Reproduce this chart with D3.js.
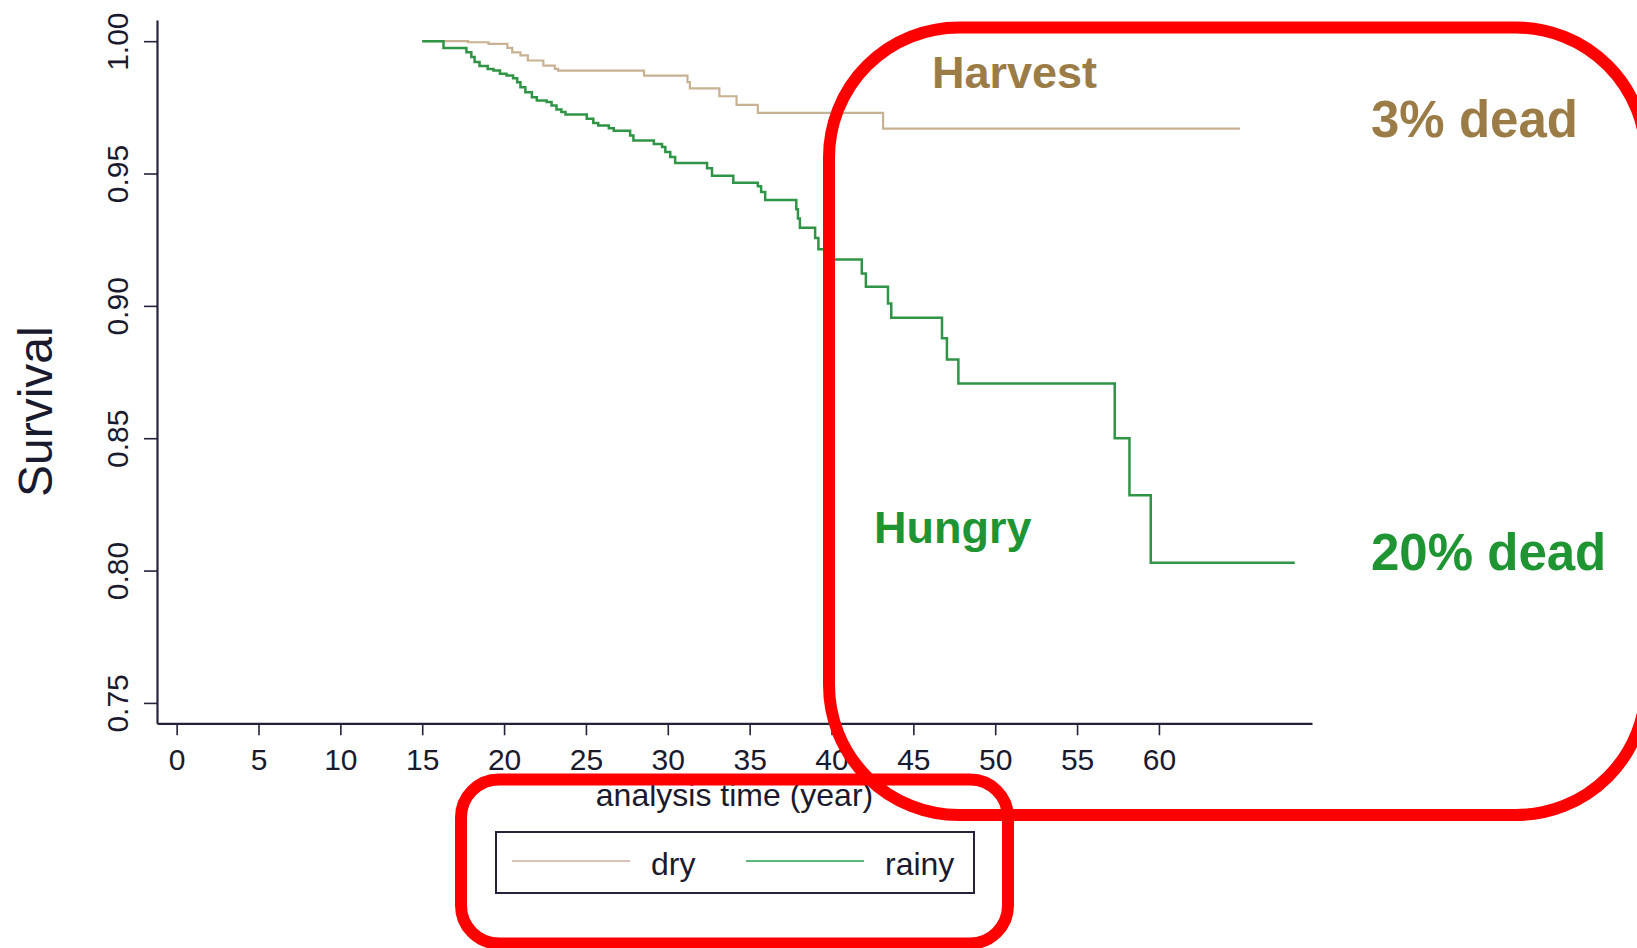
<!DOCTYPE html>
<html>
<head>
<meta charset="utf-8">
<title>Survival by season</title>
<script src="https://cdn.jsdelivr.net/npm/d3@7"></script>
<style>
  html, body { margin: 0; padding: 0; background: #ffffff; }
  svg { display: block; font-family: "Liberation Sans", Arial, Helvetica, sans-serif; }
</style>
</head>
<body>
<svg id="chart" width="1637" height="948"></svg>
<script>
// Kaplan-Meier estimates: [analysis time (years), survival after that time]
const dryTimes    = [15.0, 17.8, 19.05, 20.2, 20.5, 21.0, 21.45, 22.4, 23.1, 23.3, 28.55, 31.2, 31.35, 33.15, 34.2, 35.5, 43.15, 64.95];
const drySurvival = [1.0, 0.9996, 0.999, 0.9975, 0.9958, 0.9946, 0.9927, 0.9908, 0.9895, 0.9889, 0.987, 0.9845, 0.9822, 0.9792, 0.9759, 0.9729, 0.967, 0.967];

const rainyTimes    = [15.0, 16.3, 17.7, 18.0, 18.2, 18.5, 19.0, 19.35, 19.75, 20.15, 20.55, 20.8, 21.0, 21.3, 21.7, 22.0, 22.6, 22.9, 23.2, 23.5, 23.75,
                       25.05, 25.45, 25.75, 26.4, 26.7, 27.7, 27.9, 29.15, 29.65, 29.85, 30.15, 30.45, 32.4, 32.7, 34.0, 35.5, 35.7, 35.95,
                       37.85, 37.95, 38.07, 39.0, 39.2, 39.6, 41.85, 42.1, 43.45, 43.65, 46.75, 47.05, 47.75, 57.3, 58.2, 59.5, 68.3];
const rainySurvival = [1.0, 0.9974, 0.9958, 0.994, 0.9921, 0.9906, 0.9895, 0.9889, 0.9877, 0.987, 0.986, 0.9845, 0.9826, 0.9807, 0.9788, 0.9776, 0.977, 0.9757, 0.9742, 0.9732, 0.9723,
                       0.9707, 0.9691, 0.9681, 0.9671, 0.9662, 0.9644, 0.9625, 0.9612, 0.96, 0.9581, 0.9562, 0.954, 0.952, 0.9492, 0.9465, 0.9452, 0.943, 0.94,
                       0.9365, 0.933, 0.9295, 0.9256, 0.9214, 0.9175, 0.9122, 0.9072, 0.9009, 0.8955, 0.8878, 0.8797, 0.8707, 0.85, 0.8285, 0.803, 0.803];

const xTicks = [0, 5, 10, 15, 20, 25, 30, 35, 40, 45, 50, 55, 60];
const yTicks = [0.75, 0.80, 0.85, 0.90, 0.95, 1.00];
const seriesNames = ["dry", "rainy"];
const seriesColors = ["#c9b193", "#2f9445"];
const legendColors = ["#d8c2ba", "#5cb67e"];

// Annotation labels
const groupLabels = ["Harvest", "Hungry"];
const deadLabels = ["3% dead", "20% dead"];
const labelColors = ["#9c7c46", "#1f9433"];

// Frame of the plot region
const frame = { left: 157, right: 1312, top: 20, bottom: 723.3 };
const axisColor = "#22223a";
const textColor = "#1a1a2e";

const svg = d3.select("#chart");

const x = d3.scaleLinear().domain([-1.2, 69.35]).range([frame.left, frame.right]);
const y = d3.scaleLinear().domain([0.7423, 1.008]).range([frame.bottom, frame.top]);

// Curves
const series = [
  d3.zip(dryTimes, drySurvival),
  d3.zip(rainyTimes, rainySurvival)
];
const line = d3.line().x(d => x(d[0])).y(d => y(d[1])).curve(d3.curveStepAfter);

svg.append("g")
  .selectAll("path")
  .data(series)
  .join("path")
  .attr("d", line)
  .attr("fill", "none")
  .attr("stroke", (d, i) => seriesColors[i])
  .attr("stroke-width", (d, i) => i === 1 ? 2.5 : 2.2)
  .attr("stroke-linejoin", "miter");

// X axis
const xAxis = svg.append("g")
  .attr("transform", `translate(0,${frame.bottom})`)
  .call(d3.axisBottom(x).tickValues(xTicks).tickFormat(d3.format("d")).tickSize(12).tickSizeOuter(0).tickPadding(13));
xAxis.select(".domain").attr("stroke", axisColor).attr("stroke-width", 2.2);
xAxis.selectAll(".tick line").attr("stroke", axisColor).attr("stroke-width", 1.6);
xAxis.selectAll(".tick text")
  .attr("fill", textColor)
  .style("font-size", "30px");

// Y axis with vertical tick labels
const yAxis = svg.append("g")
  .attr("transform", `translate(${frame.left},0)`)
  .call(d3.axisLeft(y).tickValues(yTicks).tickFormat(d3.format(".2f")).tickSize(13).tickSizeOuter(0));
yAxis.select(".domain").attr("stroke", axisColor).attr("stroke-width", 2.2);
yAxis.selectAll(".tick line").attr("stroke", axisColor).attr("stroke-width", 1.6);
yAxis.selectAll(".tick text")
  .attr("fill", textColor)
  .attr("transform", "rotate(-90)")
  .attr("text-anchor", "middle")
  .attr("x", 0)
  .attr("y", -29)
  .attr("dy", 0)
  .style("font-size", "30px");

// Axis titles
svg.append("text")
  .attr("transform", `translate(52,${(frame.top + frame.bottom) / 2 + 40}) rotate(-90)`)
  .attr("text-anchor", "middle")
  .attr("fill", textColor)
  .style("font-size", "48px")
  .text("Survival");

svg.append("text")
  .attr("x", (frame.left + frame.right) / 2)
  .attr("y", 806)
  .attr("text-anchor", "middle")
  .attr("fill", textColor)
  .style("font-size", "32px")
  .text("analysis time (year)");

// Legend
const legend = svg.append("g");
legend.append("rect")
  .attr("x", 496).attr("y", 832)
  .attr("width", 478).attr("height", 61)
  .attr("fill", "#ffffff")
  .attr("stroke", axisColor)
  .attr("stroke-width", 2);
const legendItems = legend.selectAll("g.item")
  .data(seriesNames)
  .join("g")
  .attr("class", "item")
  .attr("transform", (d, i) => `translate(${512 + i * 234},0)`);
legendItems.append("line")
  .attr("x1", 0).attr("x2", 118)
  .attr("y1", 861).attr("y2", 861)
  .attr("stroke", (d, i) => legendColors[i])
  .attr("stroke-width", 2);
legendItems.append("text")
  .attr("x", 139)
  .attr("y", 875)
  .attr("fill", textColor)
  .style("font-size", "32px")
  .text(d => d);

// Group annotations
const annot = svg.append("g").style("font-weight", "bold");
annot.selectAll("text.group")
  .data(groupLabels)
  .join("text")
  .attr("class", "group")
  .attr("x", (d, i) => i === 0 ? 932 : 874)
  .attr("y", (d, i) => i === 0 ? 88 : 543)
  .attr("fill", (d, i) => labelColors[i])
  .style("font-size", "45px")
  .text(d => d);
annot.selectAll("text.dead")
  .data(deadLabels)
  .join("text")
  .attr("class", "dead")
  .attr("x", 1371)
  .attr("y", (d, i) => i === 0 ? 137 : 570)
  .attr("fill", (d, i) => labelColors[i])
  .style("font-size", "51px")
  .text(d => d);

// Highlight frames
const highlights = [
  { x: 829, y: 27.5, w: 817, h: 787.5, r: 130 },
  { x: 461, y: 779.5, w: 547, h: 164, r: 38 }
];
svg.append("g")
  .selectAll("rect")
  .data(highlights)
  .join("rect")
  .attr("x", d => d.x).attr("y", d => d.y)
  .attr("width", d => d.w).attr("height", d => d.h)
  .attr("rx", d => d.r).attr("ry", d => d.r)
  .attr("fill", "none")
  .attr("stroke", "#ff0000")
  .attr("stroke-width", 12);
</script>
</body>
</html>
